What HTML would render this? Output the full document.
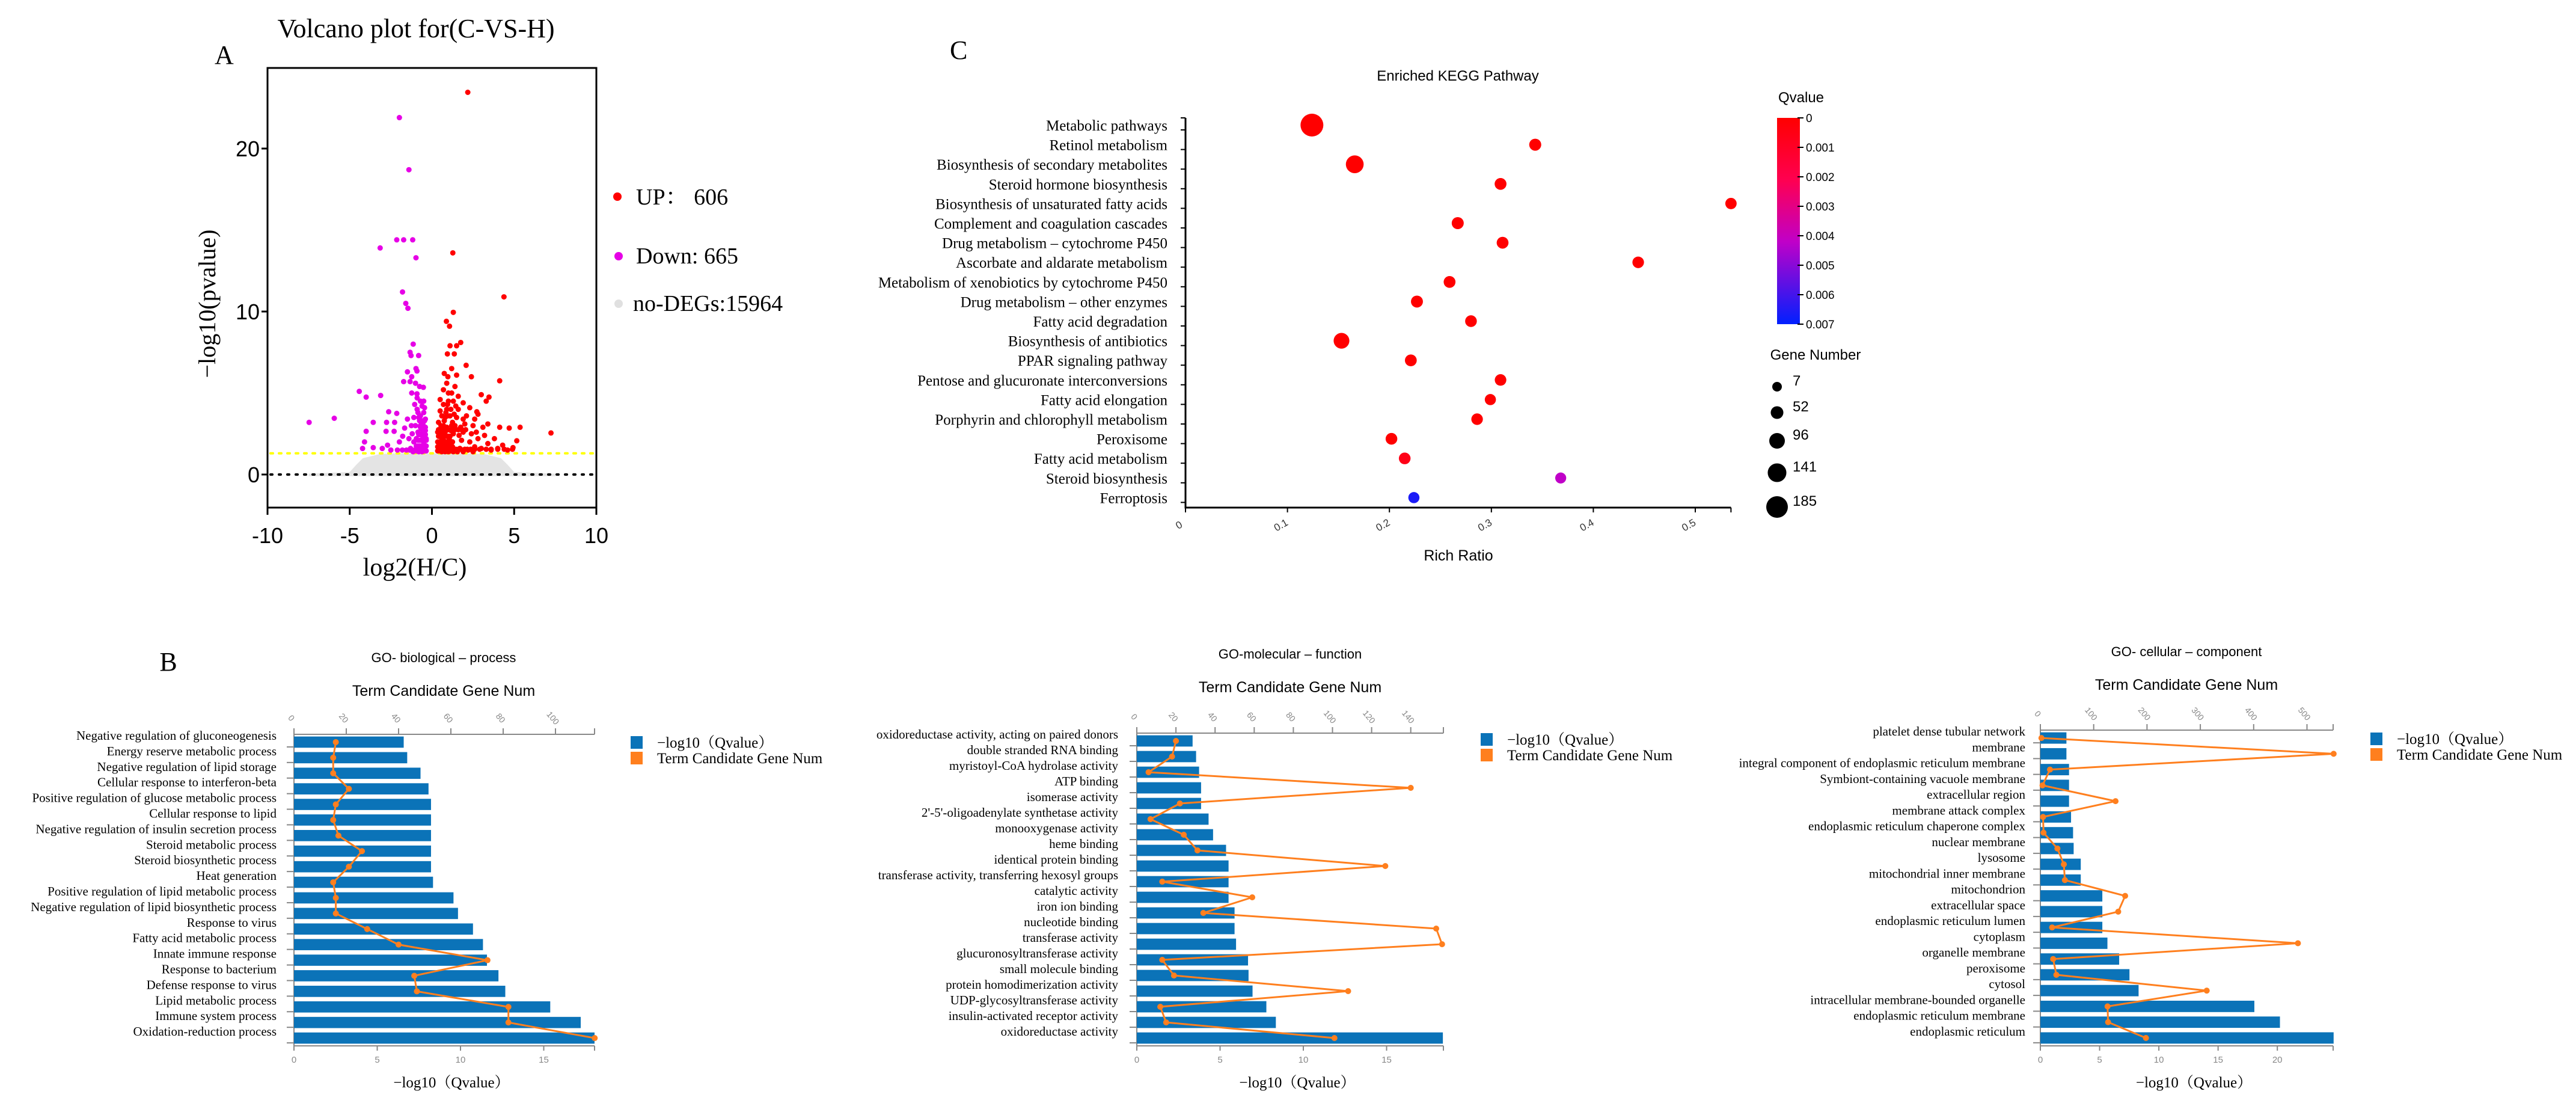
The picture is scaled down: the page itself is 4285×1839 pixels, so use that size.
<!DOCTYPE html>
<html><head><meta charset="utf-8">
<style>
html,body{margin:0;padding:0;background:#fff;}
svg{display:block;}
.serif{font-family:"Liberation Serif","Noto Serif CJK SC",serif;}
.sans{font-family:"Liberation Sans","Noto Sans CJK SC",sans-serif;}
</style></head>
<body>
<svg id="fig" width="4285" height="1839" viewBox="0 0 4285 1839" xmlns="http://www.w3.org/2000/svg">
  <defs>
    <linearGradient id="qgrad" x1="0" y1="0" x2="0" y2="1">
      <stop offset="0" stop-color="#ff0000"/>
      <stop offset="0.3" stop-color="#ff0050"/>
      <stop offset="0.6" stop-color="#c000c8"/>
      <stop offset="1" stop-color="#0020ff"/>
    </linearGradient>
  </defs>
  <text class="serif" x="692" y="62" font-size="44" text-anchor="middle">Volcano plot for(C-VS-H)</text>
  <text class="serif" x="357" y="106" font-size="44">A</text>
  <text class="serif" font-size="40" text-anchor="middle" transform="translate(358,505) rotate(-90)">−log10(pvalue)</text>
  <text class="serif" x="690" y="957" font-size="42" text-anchor="middle">log2(H/C)</text>
  <circle cx="1027" cy="327" r="7" fill="#ff0000"/>
  <text class="serif" x="1058" y="340" font-size="38">UP：  606</text>
  <circle cx="1029" cy="426" r="7" fill="#e600e6"/>
  <text class="serif" x="1058" y="438" font-size="38">Down: 665</text>
  <circle cx="1029" cy="505" r="7" fill="#e0e0e0"/>
  <text class="serif" x="1053" y="517" font-size="38">no-DEGs:15964</text>
  <g id="volcano"></g>

  <text class="serif" x="1580" y="98" font-size="44">C</text>
  <text class="sans" x="2425" y="134" font-size="24" text-anchor="middle">Enriched KEGG Pathway</text>
  <text class="sans" x="2426" y="932" font-size="25" text-anchor="middle">Rich Ratio</text>
  <text class="sans" x="2996" y="170" font-size="24" text-anchor="middle">Qvalue</text>
  <rect x="2956" y="196" width="38" height="343" fill="url(#qgrad)"/>
  <text class="sans" x="3020" y="598" font-size="24" text-anchor="middle">Gene Number</text>
  <g id="kegg"></g>

  <text class="serif" x="280" y="1115" font-size="44" text-anchor="middle">B</text>
  <g id="go"></g>
</svg>
<script>
// ---------- Volcano data ----------
const upX = [2.18,1.27,4.38,1.3,0.88,1.07,1.75,1.1,1.5,0.94,1.36,1.2,2.08,0.75,0.97,1.5,2.4,4.12,3.0,3.47,3.3,2.73,2.8,3.4,4.12,4.7,5.36,7.24,5.16,4.93,
 0.4,0.5,0.6,0.7,0.8,0.9,1.0,0.45,0.55,0.65,0.75,0.85,0.95,1.1,1.2,1.3,1.4,1.5,1.6,1.05,1.15,1.25,1.35,1.45,1.7,1.8,1.9,2.0,2.1,1.75,1.65,2.2,2.3,2.4,2.5,2.6,2.8,3.0,3.2,3.4,3.6,3.8,4.0,4.3,4.6,0.5,0.7,0.9,1.2,1.4,1.6,1.9,2.3,0.4,0.35,0.6,0.8,1.0,1.3,1.55,1.9,2.5,0.5,0.7,1.0,1.3,1.1,0.9,0.7,1.9,2.7,3.1,2.6,0.45,0.6,0.8,1.0,1.2,0.55,0.75,0.95,1.15,
 0.35,0.45,0.55,0.65,0.75,0.85,0.95,1.05,1.15,1.25,0.35,0.45,0.55,0.65,0.75,0.85,0.95,1.05,1.15,1.25,0.35,0.45,0.55,0.65,0.75,0.85,0.95,1.05,1.15,1.25,0.4,0.5,0.6,0.7,0.8,0.9,1.0,1.1,1.3,1.45,1.6,1.75,2.0,2.15,2.35,2.6,2.9,3.3,3.6,4.0,4.4,4.9,0.4,0.6,0.8,1.0,1.2,1.4,1.6,1.8,2.05];
const upY = [23.45,13.6,10.9,9.95,9.4,9.1,8.1,7.9,7.9,7.4,7.4,6.5,6.7,6.2,6.0,6.1,6.0,5.75,4.9,4.75,4.5,3.85,3.7,3.1,2.9,2.85,2.9,2.55,2.07,1.65,
 1.5,2.0,2.5,3.0,3.5,4.0,4.5,1.8,2.3,2.8,3.3,3.8,4.3,1.5,2.0,2.5,3.0,3.5,4.0,2.2,2.7,3.2,3.7,4.2,1.6,2.1,2.6,3.1,3.6,2.9,2.4,1.5,2.0,2.5,3.0,1.7,2.2,1.6,2.4,1.9,1.5,2.2,1.6,1.8,1.5,4.6,5.2,5.6,5.0,5.4,4.8,4.4,4.1,3.2,2.6,1.4,1.4,1.4,1.4,1.4,1.4,1.4,3.9,4.3,5.0,4.5,3.6,2.9,2.1,3.4,2.6,2.9,3.4,2.4,3.6,2.6,1.9,3.0,3.0,2.0,3.6,4.0,
 1.45,1.45,1.45,1.45,1.45,1.45,1.45,1.45,1.45,1.45,1.7,1.7,1.7,1.7,1.7,1.7,1.7,1.7,1.7,1.7,2.0,2.0,2.0,2.0,2.0,2.0,2.0,2.0,2.0,2.0,2.35,2.35,2.35,2.35,2.35,2.35,2.35,2.35,1.55,1.55,1.55,1.55,1.55,1.55,1.55,1.55,1.55,1.55,1.55,1.55,1.55,1.55,2.75,2.75,2.75,2.75,2.75,2.75,2.75,2.75,2.75];
const downX = [-1.98,-1.4,-2.14,-1.72,-1.17,-3.15,-0.97,-1.79,-1.59,-1.46,-1.14,-1.33,-1.27,-0.81,-0.97,-0.91,-1.49,-1.23,-1.72,-1.33,-1.0,-0.75,-1.23,-0.91,-0.52,-4.42,-4.0,-3.12,-7.47,-5.94,
 -2.63,-2.14,-3.57,-2.76,-2.27,-4.0,-2.79,-4.1,-4.22,-3.57,-3.02,-2.7,-1.98,-2.3,-1.66,-1.78,-1.49,
 -0.4,-0.5,-0.6,-0.7,-0.8,-0.9,-0.5,-0.45,-0.55,-0.65,-0.75,-0.85,-0.6,-1.0,-1.1,-1.2,-1.0,-1.1,-0.95,-0.4,-0.4,-0.5,-0.7,-0.35,-1.3,-1.4,-0.8,-0.6,-1.15,-1.25,-0.9,-0.65,-0.55,-0.45,-0.7,-0.85,-1.05,
 -0.35,-0.45,-0.55,-0.65,-0.75,-0.85,-0.95,-0.35,-0.45,-0.55,-0.65,-0.75,-0.85,-0.95,-0.35,-0.45,-0.55,-0.65,-0.75,-0.85,-0.4,-0.5,-0.6,-0.7,-0.8,-0.4,-0.5,-0.6,-0.7,-0.45,-0.55,-0.65,-1.05,-1.2,-1.35,-1.55,-1.8,-2.1,-2.5];
const downY = [21.9,18.7,14.4,14.4,14.4,13.9,13.3,11.2,10.5,10.2,8.0,7.5,7.3,7.3,6.5,6.35,6.3,6.0,5.7,5.7,5.6,5.4,5.0,4.95,5.35,5.1,4.75,4.85,3.2,3.45,
 3.85,3.75,3.2,3.2,3.2,2.65,2.65,2.0,1.6,1.65,1.6,1.8,2.0,2.65,2.85,2.35,3.4,
 1.5,2.0,2.5,3.0,3.5,4.0,4.5,1.8,2.3,2.8,3.3,3.8,4.2,1.5,2.0,2.5,3.0,3.5,2.2,2.7,3.4,3.8,4.5,2.2,1.6,2.2,1.4,1.4,1.4,3.0,4.7,1.6,3.1,4.1,3.6,2.6,4.3,
 1.45,1.45,1.45,1.45,1.45,1.45,1.45,1.75,1.75,1.75,1.75,1.75,1.75,1.75,2.1,2.1,2.1,2.1,2.1,2.1,2.45,2.45,2.45,2.45,2.45,2.9,2.9,2.9,2.9,3.3,3.3,3.3,1.5,1.5,1.5,1.5,1.5,1.5,1.5];
const greyOutlineX = [-7.5,-5,-4.6,-4.2,-3.2,-2.2,-1.2,0,1.2,2.2,3.2,4.2,4.6,5,7.5];
const greyOutlineY = [0.05,0.15,0.6,1.0,1.25,1.3,1.3,1.3,1.3,1.3,1.25,1.0,0.6,0.15,0.05];
const volcanoXTicks = [-10,-5,0,5,10];
const volcanoYTicks = [0,10,20];
const volcanoThreshold = 1.3;

// ---------- KEGG data ----------
const keggTerms = ["Metabolic pathways","Retinol metabolism","Biosynthesis of secondary metabolites","Steroid hormone biosynthesis","Biosynthesis of unsaturated fatty acids","Complement and coagulation cascades","Drug metabolism – cytochrome P450","Ascorbate and aldarate metabolism","Metabolism of xenobiotics by cytochrome P450","Drug metabolism – other enzymes","Fatty acid degradation","Biosynthesis of antibiotics","PPAR signaling pathway","Pentose and glucuronate interconversions","Fatty acid elongation","Porphyrin and chlorophyll metabolism","Peroxisome","Fatty acid metabolism","Steroid biosynthesis","Ferroptosis"];
const keggRich = [0.124,0.343,0.166,0.309,0.535,0.267,0.311,0.444,0.259,0.227,0.280,0.153,0.221,0.309,0.299,0.286,0.202,0.215,0.368,0.224];
const keggQ = [0,0,0,0,0,0,0,0,0,0,0,0,0,0,0,0,0,0.0006,0.0042,0.0066];
const keggGenes = [185,25,110,22,15,25,22,18,22,24,20,80,22,18,12,18,20,20,10,12];
const keggXTicks = [0,0.1,0.2,0.3,0.4,0.5];
const qTicks = ["0","0.001","0.002","0.003","0.004","0.005","0.006","0.007"];
const geneLegend = [7,52,96,141,185];

// ---------- GO data ----------
const bpTerms = ["Negative regulation of gluconeogenesis","Energy reserve metabolic process","Negative regulation of lipid storage","Cellular response to interferon-beta","Positive regulation of glucose metabolic process","Cellular response to lipid","Negative regulation of insulin secretion process","Steroid metabolic process","Steroid biosynthetic process","Heat generation","Positive regulation of lipid metabolic process","Negative regulation of lipid biosynthetic process","Response to virus","Fatty acid metabolic process","Innate immune response","Response to bacterium","Defense response to virus","Lipid metabolic process","Immune system process","Oxidation-reduction process"];
const bpQ = [6.59,6.80,7.60,8.08,8.23,8.23,8.23,8.23,8.23,8.35,9.58,9.85,10.75,11.35,11.59,12.28,12.69,15.39,17.22,18.05];
const bpNum = [16,15,15,21,16,15,17,26,21,15,16,16,28,40,74,46,47,82,82,115];
const mfTerms = ["oxidoreductase activity, acting on paired donors","double stranded RNA binding","myristoyl-CoA hydrolase activity","ATP binding","isomerase activity","2'-5'-oligoadenylate synthetase activity","monooxygenase activity","heme binding","identical protein binding","transferase activity, transferring hexosyl groups","catalytic activity","iron ion binding","nucleotide binding","transferase activity","glucuronosyltransferase activity","small molecule binding","protein homodimerization activity","UDP-glycosyltransferase activity","insulin-activated receptor activity","oxidoreductase activity"];
const mfQ = [3.35,3.56,3.74,3.86,3.86,4.31,4.58,5.36,5.51,5.51,5.51,5.87,5.87,5.96,6.68,6.71,6.95,7.78,8.35,18.38];
const mfNum = [20,18,6,140,22,7,24,31,127,13,59,34,153,156,13,19,108,12,15,101];
const ccTerms = ["platelet dense tubular network","membrane","integral component of endoplasmic reticulum membrane","Symbiont-containing vacuole membrane","extracellular region","membrane attack complex","endoplasmic reticulum chaperone complex","nuclear membrane","lysosome","mitochondrial inner membrane","mitochondrion","extracellular space","endoplasmic reticulum lumen","cytoplasm","organelle membrane","peroxisome","cytosol","intracellular membrane-bounded organelle","endoplasmic reticulum membrane","endoplasmic reticulum"];
const ccQ = [2.2,2.2,2.42,2.42,2.42,2.59,2.76,2.81,3.41,3.41,5.23,5.23,5.23,5.66,6.65,7.52,8.29,18.06,20.22,24.75];
const ccNum = [2,550,18,4,141,5,6,32,44,46,159,146,22,483,24,30,312,126,127,198];
const bpBottomTicks = [0,5,10,15];
const bpTopTicks = [0,20,40,60,80,100];
const mfBottomTicks = [0,5,10,15];
const mfTopTicks = [0,20,40,60,80,100,120,140];
const ccBottomTicks = [0,5,10,15,20];
const ccTopTicks = [0,100,200,300,400,500];

const NS = "http://www.w3.org/2000/svg";
function mk(tag, attrs, parent, txt){
  const e = document.createElementNS(NS, tag);
  for (const k in attrs) e.setAttribute(k, attrs[k]);
  if (txt !== undefined) e.textContent = txt;
  parent.appendChild(e);
  return e;
}
const SERIF = '"Liberation Serif","Noto Serif CJK SC",serif';
const SANS = '"Liberation Sans","Noto Sans CJK SC",sans-serif';

// ================= Volcano =================
(function(){
  const g = document.getElementById('volcano');
  const xV = v => 718.5 + v*27.35;
  const yV = v => 789 - v*27.1;
  const box = mk('rect',{x:445,y:113,width:547,height:731,fill:'none',stroke:'#000','stroke-width':3},g);
  
  
  let pts = greyOutlineX.map((x,i)=>xV(x)+','+yV(greyOutlineY[i])).join(' ');
  const cloud = mk('polygon',{points:pts+' '+xV(7.5)+','+yV(-0.1)+' '+xV(-7.5)+','+yV(-0.1),fill:'#e4e4e4'},g);
  
  
  const thr = mk('line',{x1:450,x2:990,y1:yV(volcanoThreshold),y2:yV(volcanoThreshold),stroke:'#ffff00','stroke-width':4,'stroke-dasharray':'4 10','stroke-linecap':'round'},g);
  
  
  const zl = mk('line',{x1:450,x2:990,y1:yV(0),y2:yV(0),stroke:'#000','stroke-width':4,'stroke-dasharray':'3 11','stroke-linecap':'round'},g);
  
  
  upX.forEach((x,i)=>{
    const c = mk('circle',{cx:xV(x),cy:yV(upY[i]),r:4.5,fill:'#ff0000'},g);
    
    
  });
  downX.forEach((x,i)=>{
    const c = mk('circle',{cx:xV(x),cy:yV(downY[i]),r:4.5,fill:'#e600e6'},g);
    
    
  });
  volcanoXTicks.forEach(t=>{
    const l = mk('line',{x1:xV(t),x2:xV(t),y1:844,y2:856,stroke:'#000','stroke-width':3},g);
    
    
    const tx = mk('text',{x:xV(t),y:903,'font-size':36,'text-anchor':'middle','font-family':SANS},g,String(t));
    
    
  });
  volcanoYTicks.forEach(t=>{
    const l = mk('line',{x1:435,x2:445,y1:yV(t),y2:yV(t),stroke:'#000','stroke-width':3},g);
    
    
    const tx = mk('text',{x:432,y:yV(t)+13,'font-size':36,'text-anchor':'end','font-family':SANS},g,String(t));
    
    
  });
})();

// ================= KEGG =================
(function(){
  const g = document.getElementById('kegg');
  const xK = v => 1972 + v*1696;
  const yK = i => 208 + i*32.6;
  const rK = n => 9 + (n-7)/178*10;
  const qCol = q => {
    const t = Math.min(1, q/0.007);
    const stops = [[0,[255,0,0]],[0.3,[255,0,80]],[0.6,[192,0,200]],[1,[0,32,255]]];
    for (let k=0;k<stops.length-1;k++){
      const [a,ca]=stops[k],[b,cb]=stops[k+1];
      if (t<=b){const f=(t-a)/(b-a);return 'rgb('+ca.map((c,j)=>Math.round(c+(cb[j]-c)*f)).join(',')+')';}
    }
    return 'rgb(0,32,255)';
  };
  const ax = mk('path',{d:'M1972 196 V844 H'+xK(0.535),fill:'none',stroke:'#000','stroke-width':3},g);
  
  
  const tick0 = mk('line',{x1:1964,x2:1972,y1:196,y2:196,stroke:'#000','stroke-width':2},g);
  
  
  keggTerms.forEach((t,i)=>{
    const tk = mk('line',{x1:1964,x2:1972,y1:yK(i)+8,y2:yK(i)+8,stroke:'#000','stroke-width':2},g);
    
    
    const tx = mk('text',{x:1942,y:yK(i)+9,'font-size':25,'text-anchor':'end','font-family':SERIF},g,t);
    
    
  });
  keggXTicks.concat([0.535]).forEach((v,k)=>{
    const tk = mk('line',{x1:xK(v),x2:xK(v),y1:844,y2:852,stroke:'#000','stroke-width':2},g);
    
    
  });
  keggXTicks.forEach(v=>{
    const tx = mk('text',{'font-size':17,'font-family':SANS,fill:'#333','text-anchor':'middle',transform:'translate('+(xK(v)-8)+',878) rotate(-30)'},g,String(v));
    
    
  });
  keggRich.forEach((v,i)=>{
    const c = mk('circle',{cx:xK(v),cy:yK(i),r:rK(keggGenes[i]),fill:qCol(keggQ[i])},g);
    
    
  });
  qTicks.forEach((t,i)=>{
    const y = 196 + i*49;
    const tk = mk('line',{x1:2990,x2:3000,y1:y,y2:y,stroke:'#000','stroke-width':2},g);
    
    
    const tx = mk('text',{x:3004,y:y+7,'font-size':19,'font-family':SANS},g,t);
    
    
  });
  const legY = [643,686,733,786,843];
  geneLegend.forEach((n,i)=>{
    const c = mk('circle',{cx:2956,cy:legY[i],r:rK(n)-1,fill:'#000'},g);
    
    
    const tx = mk('text',{x:2982,y:legY[i]-2,'font-size':24,'font-family':SANS},g,String(n));
    
    
  });
})();

// ================= GO =================
function drawGO(root, cfg){
  const g = mk('g',{},root);
  
  
  const L = cfg.left, top = cfg.top, bot = 1739;
  const band = (bot-top)/cfg.terms.length;
  const xb = v => L + v*cfg.bUnit;
  const xt = v => L + v*cfg.tUnit;
  const ti = mk('text',{x:cfg.cx,y:cfg.titleY,'font-size':22,'text-anchor':'middle','font-family':SANS},g,cfg.title);
  
  
  const t2 = mk('text',{x:cfg.cx,y:cfg.titleY+56,'font-size':25,'text-anchor':'middle','font-family':SANS},g,'Term Candidate Gene Num');
  
  
  const ta = mk('line',{x1:L,x2:cfg.right,y1:top,y2:top,stroke:'#888','stroke-width':2},g);
  
  
  cfg.topTicks.concat([null]).forEach(v=>{
    const x = v===null ? cfg.right : xt(v);
    const tk = mk('line',{x1:x,x2:x,y1:top-10,y2:top,stroke:'#888','stroke-width':2},g);
    
    
    if (v!==null){
      const tx = mk('text',{'font-size':14,'font-family':SANS,fill:'#888','text-anchor':'middle',transform:'translate('+(x-8)+','+(top-24)+') rotate(50)'},g,String(v));
      
      
    }
  });
  const ba = mk('line',{x1:L,x2:cfg.right,y1:bot,y2:bot,stroke:'#888','stroke-width':2},g);
  
  
  const la = mk('line',{x1:L,x2:L,y1:top,y2:bot+6,stroke:'#888','stroke-width':2},g);
  
  
  cfg.bottomTicks.concat([null]).forEach(v=>{
    const x = v===null ? cfg.right : xb(v);
    const tk = mk('line',{x1:x,x2:x,y1:bot,y2:bot+8,stroke:'#888','stroke-width':2},g);
    
    
    if (v!==null){
      const tx = mk('text',{x:x,y:bot+28,'font-size':15,'font-family':SANS,fill:'#888','text-anchor':'middle'},g,String(v));
      
      
    }
  });
  const xl = mk('text',{x:(L+cfg.right)/2+12,y:1808,'font-size':25,'text-anchor':'middle','font-family':SERIF},g,'−log10（Qvalue）');
  
  
  cfg.terms.forEach((t,i)=>{
    const yc = top + band*(i+0.5);
    const r = mk('rect',{x:L,y:yc-band*0.36,width:xb(cfg.q[i])-L,height:band*0.72,fill:'#0b73b8'},g);
    
    
    const tk = mk('line',{x1:L-12,x2:L,y1:yc+8,y2:yc+8,stroke:'#888','stroke-width':2},g);
    
    
    const tx = mk('text',{x:cfg.labelX,y:yc-4,'font-size':21,'text-anchor':'end','font-family':SERIF},g,t);
    
    
  });
  const pts = cfg.num.map((n,i)=>xt(n)+','+(top+band*(i+0.5))).join(' ');
  const pl = mk('polyline',{points:pts,fill:'none',stroke:'#ff7f1e','stroke-width':3},g);
  
  
  cfg.num.forEach((n,i)=>{
    const c = mk('circle',{cx:xt(n),cy:top+band*(i+0.5),r:5,fill:'#ff7f1e'},g);
    
    
  });
  const s1 = mk('rect',{x:cfg.legX,y:cfg.legY,width:20,height:21,fill:'#0b73b8'},g);
  
  
  const l1 = mk('text',{x:cfg.legX+44,y:cfg.legY+19,'font-size':25,'font-family':SERIF},g,'−log10（Qvalue）');
  
  
  const s2 = mk('rect',{x:cfg.legX,y:cfg.legY+26,width:20,height:21,fill:'#ff7f1e'},g);
  
  
  const l2 = mk('text',{x:cfg.legX+44,y:cfg.legY+45,'font-size':25,'font-family':SERIF},g,'Term Candidate Gene Num');
  
  
}
const goRoot = document.getElementById('go');
drawGO(goRoot,{name:'go-biological-process-chart',title:'GO- biological – process',terms:bpTerms,q:bpQ,num:bpNum,left:489,right:989,top:1221,bUnit:27.7,tUnit:4.35,cx:738,titleY:1101,labelX:460,bottomTicks:bpBottomTicks,topTicks:bpTopTicks,legX:1049,legY:1224});
drawGO(goRoot,{name:'go-molecular-function-chart',title:'GO-molecular – function',terms:mfTerms,q:mfQ,num:mfNum,left:1891,right:2401,top:1219,bUnit:27.7,tUnit:3.255,cx:2146,titleY:1095,labelX:1860,bottomTicks:mfBottomTicks,topTicks:mfTopTicks,legX:2463,legY:1219});
drawGO(goRoot,{name:'go-cellular-component-chart',title:'GO- cellular – component',terms:ccTerms,q:ccQ,num:ccNum,left:3394,right:3881,top:1214,bUnit:19.71,tUnit:0.887,cx:3637,titleY:1091,labelX:3369,bottomTicks:ccBottomTicks,topTicks:ccTopTicks,legX:3943,legY:1218});
</script>
</body></html>
